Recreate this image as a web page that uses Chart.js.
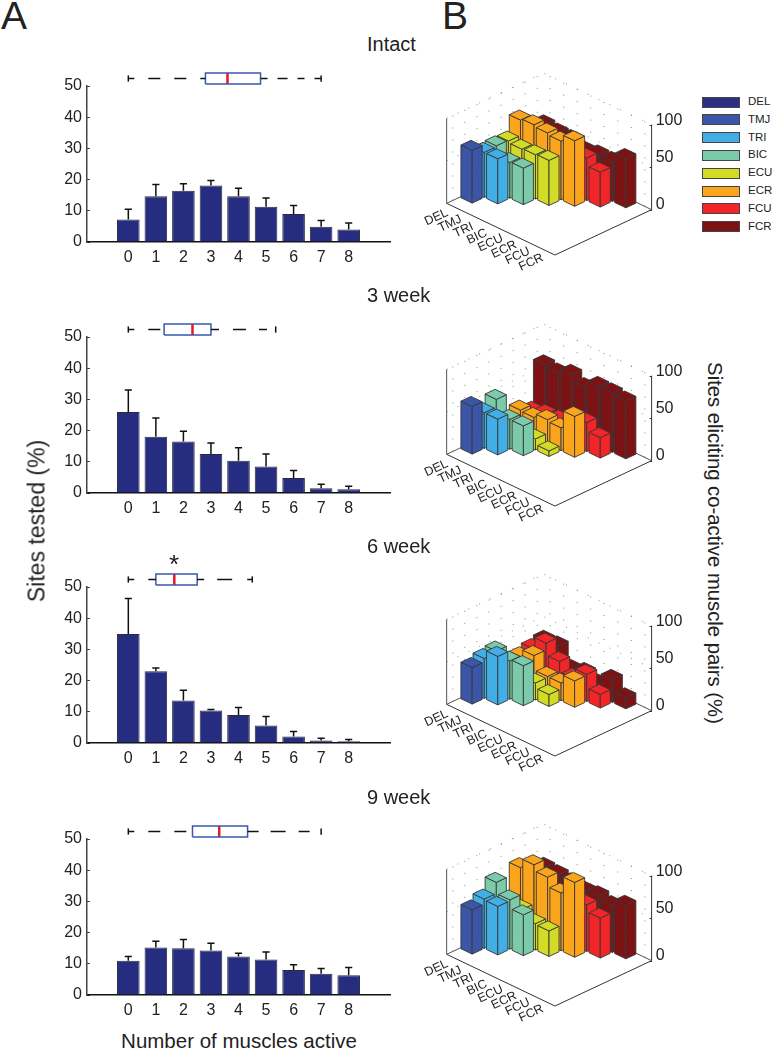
<!DOCTYPE html>
<html>
<head>
<meta charset="utf-8">
<title>Co-active muscles</title>
<script src="https://cdn.jsdelivr.net/npm/chart.js@4"></script>
<style>
  html, body { margin:0; padding:0; background:#fff; }
  #page { position:relative; width:773px; height:1050px; overflow:hidden; font-family:"Liberation Sans", Arial, sans-serif; color:#222; }
  #page canvas { position:absolute; }
  .txt { position:absolute; transform:translate(-50%,-50%); white-space:nowrap; line-height:1; }
  .title { position:absolute; left:367px; transform:translateY(-50%); white-space:nowrap; line-height:1; font-size:20px; }
  .swatch { position:absolute; left:702px; width:38px; height:11px; border:1px solid #444; box-sizing:border-box; }
  .swname { position:absolute; left:748px; font-size:11.5px; line-height:1; transform:translateY(-50%); }
</style>
</head>
<body>
<div id="page"></div>
<script>
'use strict';

// ===== Data: left column =====
const COUNT_VALUES = [0,1,2,3,4,5,6,7,8];
const PANEL_NAMES = ['Intact','3 week','6 week','9 week'];

const sitesIntact = [7.2,14.7,16.4,18.1,14.7,11.3,9,4.9,4];
const sites3wk    = [26,18,16.5,12.5,10.3,8.5,4.8,1.5,1.2];
const sites6wk    = [34.9,23,13.6,10.4,9,5.6,2.1,0.8,0.6];
const sites9wk    = [11,15.2,15,14.3,12.3,11.4,8,6.8,6.3];

const errTopIntact = [10.5,18.4,18.7,19.7,17.2,14.1,11.7,6.9,6.1];
const errTop3wk    = [33,24,19.8,16,14.5,12.5,7.2,2.8,2.2];
const errTop6wk    = [46.3,24,16.9,10.7,11.4,8.5,3.7,1.5,1.1];
const errTop9wk    = [12.3,17.2,17.8,16.6,13.4,13.8,9.7,8.5,8.8];

// box plots: low whisker, q1, median, q3, high whisker
const boxIntact = [0,2.8,3.6,4.8,7];
const box3wk    = [0,1.3,2.33,3,5.35];
const box6wk    = [0,1,1.67,2.5,4.5];
const box9wk    = [0,2.33,3.3,4.33,7];

// ===== Data: right column =====
const MUSCLES = ['DEL','TMJ','TRI','BIC','ECU','ECR','FCU','FCR'];
const MUSCLE_COLORS = ['#2a2f85','#3b55a8','#42aee6','#7bcbab','#d2dc26','#fba51c','#f22528','#7c1214'];
const Z_TICKS = [0,50,100];

// one row per muscle from TMJ on, each row holds its pairs with the muscles before it
const pairsIntact = [
  [62],
  [53,53],
  [54,42,43],
  [53,51,52,53],
  [71,73,71,69,77],
  [50,50,50,50,50,41],
  [52,50,50,44,47,47,58]
];
const pairs3wk = [
  [56],
  [42,42],
  [51,35,35],
  [10,10,13,6.5],
  [25,24,29,27,48],
  [17,21,22,25,34,24],
  [65,63,69,61,70,70,68]
];
const pairs6wk = [
  [43],
  [47,57],
  [49,45,47],
  [20,20,20,14],
  [29,38,21,21,31],
  [32,46,32,20,32,16],
  [35,36,16,20,14,27,13]
];
const pairs9wk = [
  [52],
  [58,57],
  [71,58,48],
  [40,40,31,30],
  [75,86,79,68,88],
  [50,50,50,50,55,47],
  [62,61,59,57,59,55,63]
];

const sitesAll = [sitesIntact, sites3wk, sites6wk, sites9wk];
const errAll   = [errTopIntact, errTop3wk, errTop6wk, errTop9wk];
const boxAll   = [boxIntact, box3wk, box6wk, box9wk];
const pairsAll = [pairsIntact, pairs3wk, pairs6wk, pairs9wk];

// ===== Page layout =====
const page = document.getElementById('page');
const FONT = '"Liberation Sans", Arial, sans-serif';
const BAR_TOPS = [86,337,587,839];      // pixel row of the 50 tick
const BAR_PAD_TOP = 30;
const CUBE_TOPS = [60,310.5,561,811];   // canvas top of each 3D panel
const DASH_LEFT = [6,14,12,14,12,14];
const DASH_RIGHT = [[7,10,10,10],[8,14,13,13],[7,13,15,15],[11,12,15,13]];

function addText(str, x, y, size, rotate){
  const d = document.createElement('div');
  d.className = 'txt';
  d.textContent = str;
  d.style.left = x + 'px';
  d.style.top = y + 'px';
  d.style.fontSize = size + 'px';
  if(rotate) d.style.transform = `translate(-50%,-50%) rotate(${rotate}deg)`;
  page.appendChild(d);
}

function addCanvas(left, top, w, h){
  const c = document.createElement('canvas');
  c.width = w; c.height = h;
  c.style.left = left + 'px';
  c.style.top = top + 'px';
  page.appendChild(c);
  return c;
}

// line datasets use the fast path otherwise, which merges points in one pixel column
const SOLID = [100,0];

function lineSet(points, color, width, dash){
  return {
    type:'scatter', showLine:true, data:points,
    borderColor:color, borderWidth:width, borderDash:dash || SOLID,
    pointRadius:0, fill:false, clip:false, order:1
  };
}

// ===== Bar panels =====
function barChart(idx){
  const sites = sitesAll[idx], errs = errAll[idx], box = boxAll[idx];
  const canvas = addCanvas(0, BAR_TOPS[idx] - BAR_PAD_TOP, 392, BAR_PAD_TOP + 156 + 30);

  const datasets = [{
    type:'bar', data:sites.map((v,i) => ({x:COUNT_VALUES[i], y:v})),
    backgroundColor:'#262d80', borderColor:'#2b2b3a', borderWidth:1,
    barPercentage:0.82, categoryPercentage:1, order:2
  }];

  // error bars: stem and cap
  sites.forEach((v,i) => {
    const top = errs[i];
    datasets.push(lineSet([{x:i,y:v},{x:i,y:top},{x:i-0.13,y:top},{x:i+0.13,y:top}], '#111', 1.5));
  });

  // box plot over the axes
  const [lo,q1,med,q3,hi] = box;
  const yc = 52.4, yh = 1.75, cap = 1;
  datasets.push(lineSet([{x:lo,y:yc-cap},{x:lo,y:yc+cap}], '#111', 1.5));
  datasets.push(lineSet([{x:hi,y:yc-cap},{x:hi,y:yc+cap}], '#111', 1.5));
  datasets.push(lineSet([{x:lo,y:yc},{x:q1,y:yc}], '#111', 1.5, DASH_LEFT));
  datasets.push(lineSet([{x:q3,y:yc},{x:hi,y:yc}], '#111', 1.5, DASH_RIGHT[idx]));
  datasets.push(lineSet([{x:q1,y:yc-yh},{x:q3,y:yc-yh},{x:q3,y:yc+yh},{x:q1,y:yc+yh},{x:q1,y:yc-yh}], '#3a58ad', 1.5));
  datasets.push(lineSet([{x:med,y:yc-yh},{x:med,y:yc+yh}], '#f0141e', 2.5));

  return new Chart(canvas, {
    type:'bar',
    data:{ datasets },
    options:{
      responsive:false, animation:false, events:[],
      layout:{ padding:{ top:BAR_PAD_TOP, right:2, left:0, bottom:0 } },
      plugins:{ legend:{display:false}, tooltip:{enabled:false} },
      scales:{
        x:{
          type:'linear', position:'bottom', offset:false, min:-1.5, max:9.5,
          grid:{ display:false, offset:false, drawTicks:false },
          border:{ color:'#111', width:1.5 },
          ticks:{ color:'#222', font:{family:FONT, size:16}, padding:6, maxRotation:0, autoSkip:false, precision:0 },
          afterBuildTicks(s){ s.ticks = COUNT_VALUES.map(v => ({value:v})); },
          afterFit(s){ s.height = 30; }
        },
        y:{
          min:0, max:50,
          grid:{ drawOnChartArea:false, tickLength:-3, tickColor:'#444', tickWidth:1 },
          border:{ color:'#444', width:1.5 },
          ticks:{ stepSize:10, color:'#222', font:{family:FONT, size:16}, padding:8 },
          afterFit(s){ s.width = 87; }
        }
      }
    }
  });
}

// ===== 3D panels =====
const CUBE_W = 231.67, CUBE_AXIS_W = 48.33, CUBE_H = 240;
const Z_PX = 0.85;   // pixels per percent
const BAR_SIDE = 0.83;

// floor position a,b and height z to the x and y scales
function project(a, b, z){
  return { x:(80 + a*40.6 + b*36.25)/3, y:z + 7.84 - 7.6*a + 6.67*b };
}

function faceSet(pts, color){
  return {
    type:'scatter', showLine:true, data:[...pts, pts[0]],
    borderColor:'#383838', borderWidth:0.9, borderDash:SOLID, borderJoinStyle:'round',
    backgroundColor:color, fill:'shape', pointRadius:0, clip:false
  };
}

function wireSet(pts, color, width, dash){
  return {
    type:'scatter', showLine:true, data:pts,
    borderColor:color, borderWidth:width, borderDash:dash || SOLID,
    pointRadius:0, fill:false, clip:false
  };
}

function cuboidChart(idx){
  const rows = pairsAll[idx];
  const canvas = addCanvas(420, CUBE_TOPS[idx], 280, CUBE_H);

  // one entry per pair, nearest to the viewer first (first dataset paints last)
  const pairs = [];
  rows.forEach((row, r) => row.forEach((v, a) => pairs.push({a, b:r+1, v})));
  pairs.sort((p,q) => (q.a - q.b) - (p.a - p.b));

  const datasets = [];
  pairs.forEach(({a,b,v}) => {
    const color = MUSCLE_COLORS[b];
    const h = BAR_SIDE/2;
    const a0 = a+0.5-h, a1 = a+0.5+h, b0 = b+0.5-h, b1 = b+0.5+h;
    datasets.push(faceSet([project(a0,b0,v),project(a1,b0,v),project(a1,b1,v),project(a0,b1,v)], color));
    datasets.push(faceSet([project(a1,b0,0),project(a1,b1,0),project(a1,b1,v),project(a1,b0,v)], color));
    datasets.push(faceSet([project(a0,b0,0),project(a1,b0,0),project(a1,b0,v),project(a0,b0,v)], color));
  });

  // floor and corner edges
  const EDGE = '#333';
  datasets.push(wireSet([project(0,0,0),project(8,0,0),project(8,8,0)], EDGE, 1));
  datasets.push(wireSet([project(0,0,0),project(0,8,0),project(8,8,0)], '#555', 1));
  datasets.push(wireSet([project(0,0,0),project(0,0,100)], '#555', 1));
  datasets.push(wireSet([project(8,8,0),project(8,8,100)], '#333', 1));

  // dotted grid on the two back walls
  const DOT = [1,11], DOTC = '#8a8a8a';
  for(const z of [50,100]){
    datasets.push(wireSet([project(0,0,z),project(0,8,z),project(8,8,z)], DOTC, 1, DOT));
  }
  for(let k = 0; k < 8; k++){
    datasets.push(wireSet([project(0,k+0.5,0),project(0,k+0.5,100)], DOTC, 1, DOT));
    datasets.push(wireSet([project(k+0.5,8,0),project(k+0.5,8,100)], DOTC, 1, DOT));
  }

  return new Chart(canvas, {
    type:'scatter',
    data:{ datasets },
    options:{
      responsive:false, animation:false, events:[],
      layout:{ padding:0 },
      plugins:{ legend:{display:false}, tooltip:{enabled:false} },
      scales:{
        x:{ type:'linear', display:false, min:0, max:CUBE_W },
        y:{
          type:'linear', position:'right',
          min:-(CUBE_H-150)/Z_PX, max:150/Z_PX,
          grid:{ drawOnChartArea:false, tickLength:-2, tickColor:'#333' },
          border:{ display:false },
          ticks:{ display:false },
          afterBuildTicks(s){ s.ticks = Z_TICKS.map(v => ({value:v})); },
          afterFit(s){ s.width = CUBE_AXIS_W; }
        }
      }
    },
    plugins:[cuboidLabels]
  });
}

// muscle names along the floor edge, z numbers beside the right corner
const Z_LABEL_SHIFT = [-5,-9.5,-4.5];
const cuboidLabels = {
  id:'cuboidLabels',
  afterDraw(chart){
    const {ctx, scales:{x, y}} = chart;
    ctx.save();
    ctx.fillStyle = '#222';
    ctx.textAlign = 'center';
    ctx.textBaseline = 'middle';
    ctx.font = `12.5px ${FONT}`;
    MUSCLES.forEach((name, a) => {
      const p = project(a+0.5, 0, 0);
      ctx.save();
      ctx.translate(x.getPixelForValue(p.x) - 17, y.getPixelForValue(p.y) + 10.7);
      ctx.rotate(-25*Math.PI/180);
      ctx.fillText(name, 0, 0);
      ctx.restore();
    });
    ctx.font = `16px ${FONT}`;
    ctx.textAlign = 'left';
    Z_TICKS.forEach((v,i) => {
      ctx.fillText(String(v), x.right + 4, y.getPixelForValue(v) + Z_LABEL_SHIFT[i]);
    });
    ctx.restore();
  }
};

// ===== Legend =====
function addLegend(){
  MUSCLES.forEach((name,i) => {
    const y = 96.5 + i*17.8;
    const s = document.createElement('div');
    s.className = 'swatch';
    s.style.top = y + 'px';
    s.style.background = MUSCLE_COLORS[i];
    page.appendChild(s);
    const t = document.createElement('div');
    t.className = 'swname';
    t.textContent = name;
    t.style.top = (y + 5.5) + 'px';
    page.appendChild(t);
  });
}

function addTitle(str, y){
  const d = document.createElement('div');
  d.className = 'title';
  d.textContent = str;
  d.style.top = y + 'px';
  page.appendChild(d);
}

// ===== init =====
[0,1,2,3].forEach(i => {
  barChart(i);
  cuboidChart(i);
  addTitle(PANEL_NAMES[i], 44 + i*251);
});
addLegend();
addText('A', 14, 15, 39);
addText('B', 455, 15, 39);
addText('*', 174, 564, 26);
addText('Sites tested (%)', 37, 521, 23, -90);
addText('Number of muscles active', 239, 1041, 20.5);
addText('Sites eliciting co-active muscle pairs (%)', 715, 543, 20.3, 90);
</script>
</body>
</html>
